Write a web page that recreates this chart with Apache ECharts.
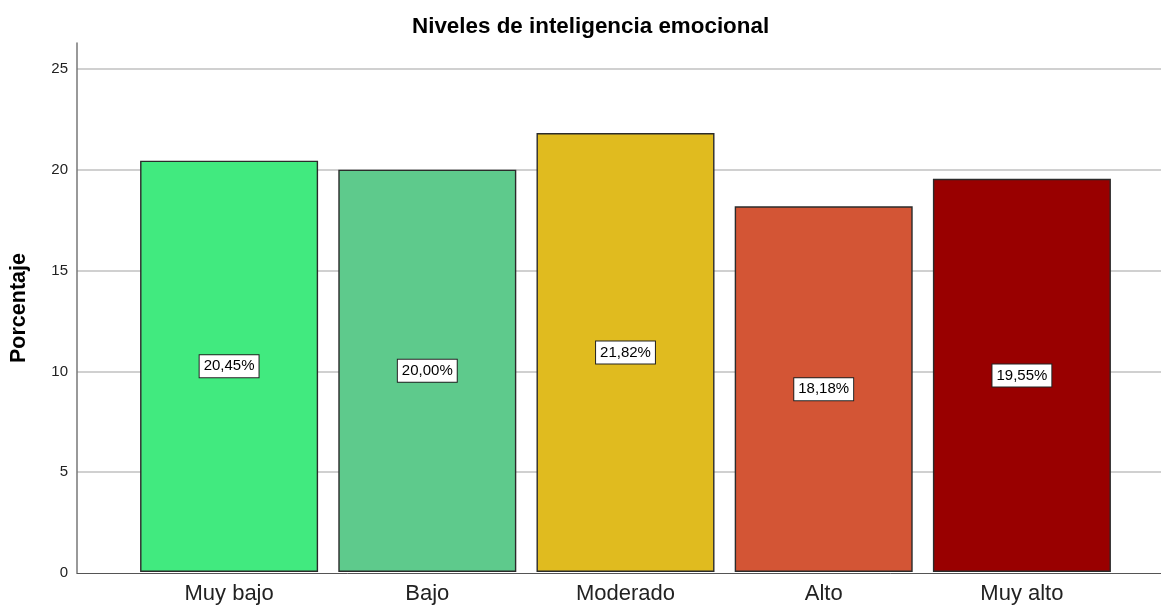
<!DOCTYPE html>
<html>
<head>
<meta charset="utf-8">
<script src="https://cdn.jsdelivr.net/npm/echarts@6/dist/echarts.min.js"></script>
<style>html,body{margin:0;padding:0;background:#fff}#c{width:1161px;height:605px}</style>
</head>
<body>
<div id="c"></div>
<script>
const categories = ['Muy bajo', 'Bajo', 'Moderado', 'Alto', 'Muy alto'];
const percentages = [20.45, 20.00, 21.82, 18.18, 19.55];
const barColors = ['#41EA7F', '#5ECA8C', '#E0BB1F', '#D35535', '#990000'];
const yTicks = [0, 5, 10, 15, 20, 25];

const FONT = '"Liberation Sans", Arial, sans-serif';
const Y_MAX = 26.3;
const chart = echarts.init(document.getElementById('c'));
chart.setOption({
  animation: false,
  textStyle: { fontFamily: FONT },
  title: {
    text: 'Niveles de inteligencia emocional',
    left: 407, top: 11,
    textStyle: { fontFamily: FONT, fontSize: 22.4, fontWeight: 'bold', color: '#000' }
  },
  grid: [
    { left: 75, right: 0, top: 43, bottom: 32 },
    { left: 130, right: 40, top: 43, bottom: 32 }
  ],
  xAxis: [
    { gridIndex: 0, type: 'category', data: [''], axisLine: { lineStyle: { color: '#555', width: 1 } },
      axisTick: { show: false }, axisLabel: { show: false } },
    { gridIndex: 1, type: 'category', data: categories, axisLine: { show: false },
      axisTick: { show: false },
      axisLabel: { fontFamily: FONT, fontSize: 22, color: '#222', margin: 11 } }
  ],
  yAxis: [
    { gridIndex: 0, type: 'value', min: 0, max: Y_MAX, interval: 5,
      name: 'Porcentaje', nameLocation: 'middle', nameRotate: 90, nameGap: 47,
      nameTextStyle: { fontFamily: FONT, fontSize: 21.5, fontWeight: 'bold', color: '#000' },
      axisLine: { show: true, lineStyle: { color: '#777', width: 1.5 } },
      axisTick: { show: false },
      axisLabel: { showMaxLabel: false, fontFamily: FONT, fontSize: 15, color: '#222', margin: 9,
        formatter: v => yTicks.includes(v) ? String(v) : '' },
      splitLine: { show: true, showMaxLine: false, showMinLine: false, lineStyle: { color: '#d0d0d0', width: 2 } } },
    { gridIndex: 1, type: 'value', min: 0, max: Y_MAX, interval: 5, show: false, splitLine: { show: false } }
  ],
  series: [{
    type: 'bar', xAxisIndex: 1, yAxisIndex: 1,
    barWidth: 178,
    data: percentages.map((v, i) => ({ value: v, itemStyle: { color: barColors[i] } })),
    itemStyle: { borderColor: '#2b2b2b', borderWidth: 1.4 },
    label: {
      show: true, position: 'inside',
      formatter: p => p.value.toFixed(2).replace('.', ',') + '%',
      fontFamily: FONT, fontSize: 15, color: '#000',
      backgroundColor: '#fff', borderColor: '#222', borderWidth: 1, padding: [4, 4, 3, 4]
    }
  }]
});
</script>
</body>
</html>
